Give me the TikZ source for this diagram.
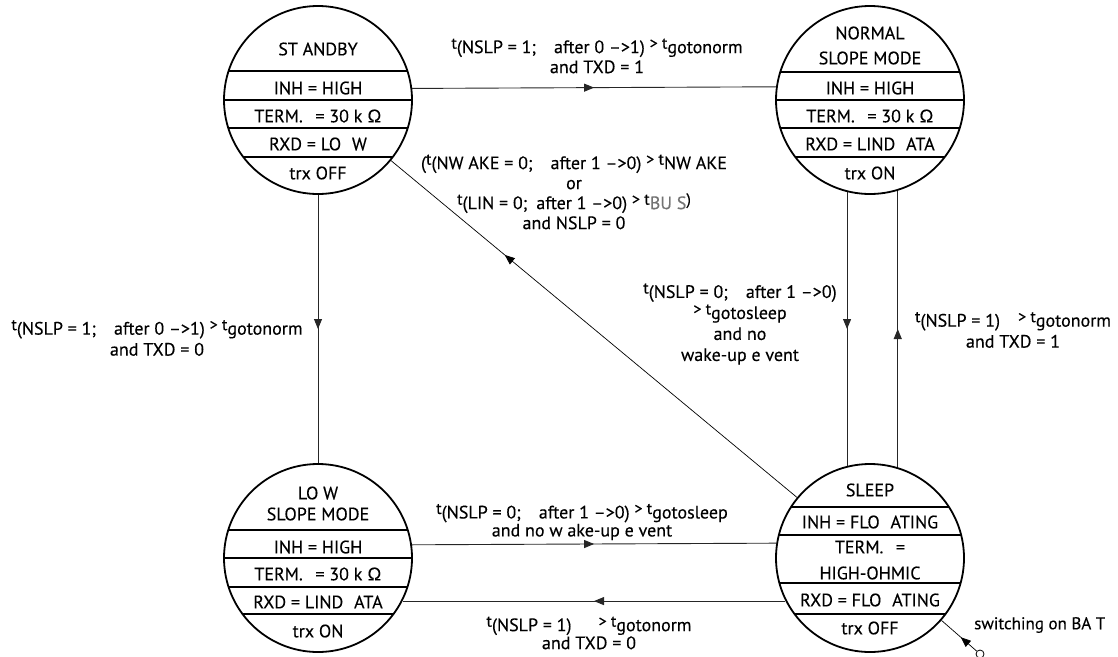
\documentclass[tikz,border=0pt]{standalone}
\usepackage{fontspec}
\setmainfont{PT Sans}[FakeBold=0.25]
\usetikzlibrary{calc,arrows.meta,decorations.markings}
\newcommand\rt[1]{\raisebox{0.5ex}{\fontsize{16}{16}\selectfont #1}}
\begin{document}
\begin{tikzpicture}[x=1pt,y=-1pt,
  state/.style={circle, draw, line width=1.8pt, minimum size=188pt, inner sep=0pt},
  divider/.style={line width=1.2pt},
  conn/.style={line width=0.9pt, draw=black!85},
  txt/.style={font=\fontsize{18}{20}\selectfont, inner sep=0pt},
  lbl/.style={font=\fontsize{18}{21}\selectfont, align=center, inner sep=0pt},
  midarrow/.style={postaction={decorate}, decoration={markings, mark=at position #1 with {\arrow{Triangle[length=10pt,width=8pt]}}}}]
\useasboundingbox (0,0) rectangle (1118,656);

% state circles
\node[state] (standby) at (318,100) {};
\node[state] (normal) at (870,100) {};
\node[state] (low) at (318,558) {};
\node[state] (sleep) at (870,558) {};

% dividers
\begin{scope}
  \clip (standby) circle (94pt);
  \foreach \d in {-29,0,28,57} \draw[divider] ($(standby)+(-100,\d)$) -- ++(200,0);
\end{scope}
\begin{scope}
  \clip (normal) circle (94pt);
  \foreach \d in {-28,0,28,57} \draw[divider] ($(normal)+(-100,\d)$) -- ++(200,0);
\end{scope}
\begin{scope}
  \clip (low) circle (94pt);
  \foreach \d in {-28,0,29,56} \draw[divider] ($(low)+(-100,\d)$) -- ++(200,0);
\end{scope}
\begin{scope}
  \clip (sleep) circle (94pt);
  \foreach \d in {-51,-23,25,56} \draw[divider] ($(sleep)+(-100,\d)$) -- ++(200,0);
\end{scope}

% texts in STANDBY
\node[txt] (sb1) at ($(standby)+(0,-51)$) {ST ANDBY};
\node[txt] (sb2) at ($(standby)+(0,-12)$) {INH = HIGH};
\node[txt] (sb3) at ($(standby)+(0,16)$) {TERM.\hspace{0.7em}= 30 k Ω};
\node[txt] (sb4) at ($(standby)+(0,44)$) {RXD = LO\hspace{0.6em}W};
\node[txt] (sb5) at ($(standby)+(0,73)$) {trx OFF};
% texts in NORMAL
\node[txt] (nm0) at ($(normal)+(0,-67)$) {NORMAL};
\node[txt] (nm1) at ($(normal)+(0,-42)$) {SLOPE MODE};
\node[txt] (nm2) at ($(normal)+(0,-12)$) {INH = HIGH};
\node[txt] (nm3) at ($(normal)+(0,16)$) {TERM.\hspace{0.7em}= 30 k Ω};
\node[txt] (nm4) at ($(normal)+(0,44)$) {RXD = LIND\hspace{0.6em}ATA};
\node[txt] (nm5) at ($(normal)+(0,73)$) {trx ON};
% texts in LOW
\node[txt] (lw0) at ($(low)+(0,-65)$) {LO W};
\node[txt] (lw1) at ($(low)+(0,-44)$) {SLOPE MODE};
\node[txt] (lw2) at ($(low)+(0,-11)$) {INH = HIGH};
\node[txt] (lw3) at ($(low)+(0,16)$) {TERM.\hspace{0.7em}= 30 k Ω};
\node[txt] (lw4) at ($(low)+(0,44)$) {RXD = LIND\hspace{0.6em}ATA};
\node[txt] (lw5) at ($(low)+(0,73)$) {trx ON};
% texts in SLEEP
\node[txt] (sl0) at ($(sleep)+(0,-68)$) {SLEEP};
\node[txt] (sl1) at ($(sleep)+(0,-36)$) {INH = FLO\hspace{0.6em}ATING};
\node[txt] (sl2) at ($(sleep)+(0,-11)$) {TERM.\hspace{0.7em}=};
\node[txt] (sl3) at ($(sleep)+(0,15)$) {HIGH-OHMIC};
\node[txt] (sl4) at ($(sleep)+(0,42)$) {RXD = FLO\hspace{0.6em}ATING};
\node[txt] (sl5) at ($(sleep)+(0,70)$) {trx OFF};

% connectors
\draw[conn, midarrow=0.5] (standby.7.3) -- (normal.172.7);
\draw[conn, midarrow=0.5] (standby) -- (low);
\draw[conn, midarrow=0.5] (normal.-104.8) -- (sleep.104.8);
\draw[conn, midarrow=0.5] (sleep.73.3) -- (normal.-73.3);
\draw[conn, midarrow=0.5] (low.8.6) -- (sleep.171.4);
\draw[conn, midarrow=0.5] (sleep.207.9) -- (low.-27.9);
\draw[conn, line width=0.7pt, draw=black, midarrow=0.72] (sleep) -- (standby);

\node[circle, draw, line width=0.8pt, minimum size=8pt, inner sep=0pt] (bat) at (980,654) {};
\draw[conn, line width=0.7pt, draw=black, midarrow=0.45] (bat) -- (sleep);
\node[txt, anchor=west, font=\fontsize{17}{19}\selectfont] (batlbl) at (974,625) {switching on BA T};

% transition labels
\node[lbl, font=\fontsize{18}{20}\selectfont] (l1) at (597,56) {\rt{t}(NSLP = 1;\hspace{1em}after 0 –>1) \rt{> t}gotonorm\\and TXD = 1};
\node[lbl, font=\fontsize{18}{20}\selectfont] (l2) at (574,192) {(\rt{t}(NW AKE = 0;\hspace{1em}after 1 –>0) \rt{> t}NW AKE\\or\\\rt{t}(LIN = 0;\hspace{0.5em}after 1 –>0) \rt{> t}{\color{black!55}BU S}\rt{)}\\and NSLP = 0};
\node[lbl] (l3) at (740,324) {\rt{t}(NSLP = 0;\hspace{1em}after 1 –>0)\\\rt{> t}gotosleep\\and no\\wake-up e vent};
\node[lbl] (l4) at (1013,330) {\rt{t}(NSLP = 1)\hspace{1em}\rt{> t}gotonorm\\and TXD = 1};
\node[lbl] (l5) at (157,338) {\rt{t}(NSLP = 1;\hspace{1em}after 0 –>1) \rt{> t}gotonorm\\and TXD = 0};
\node[lbl, font=\fontsize{18}{18}\selectfont] (l6) at (582,522) {\rt{t}(NSLP = 0;\hspace{1em}after 1 –>0) \rt{> t}gotosleep\\and no w ake-up e vent};
\node[lbl, font=\fontsize{18}{18}\selectfont] (l7) at (589,633) {\rt{t}(NSLP = 1)\hspace{1.5em}\rt{> t}gotonorm\\and TXD = 0};
\end{tikzpicture}
\end{document}
